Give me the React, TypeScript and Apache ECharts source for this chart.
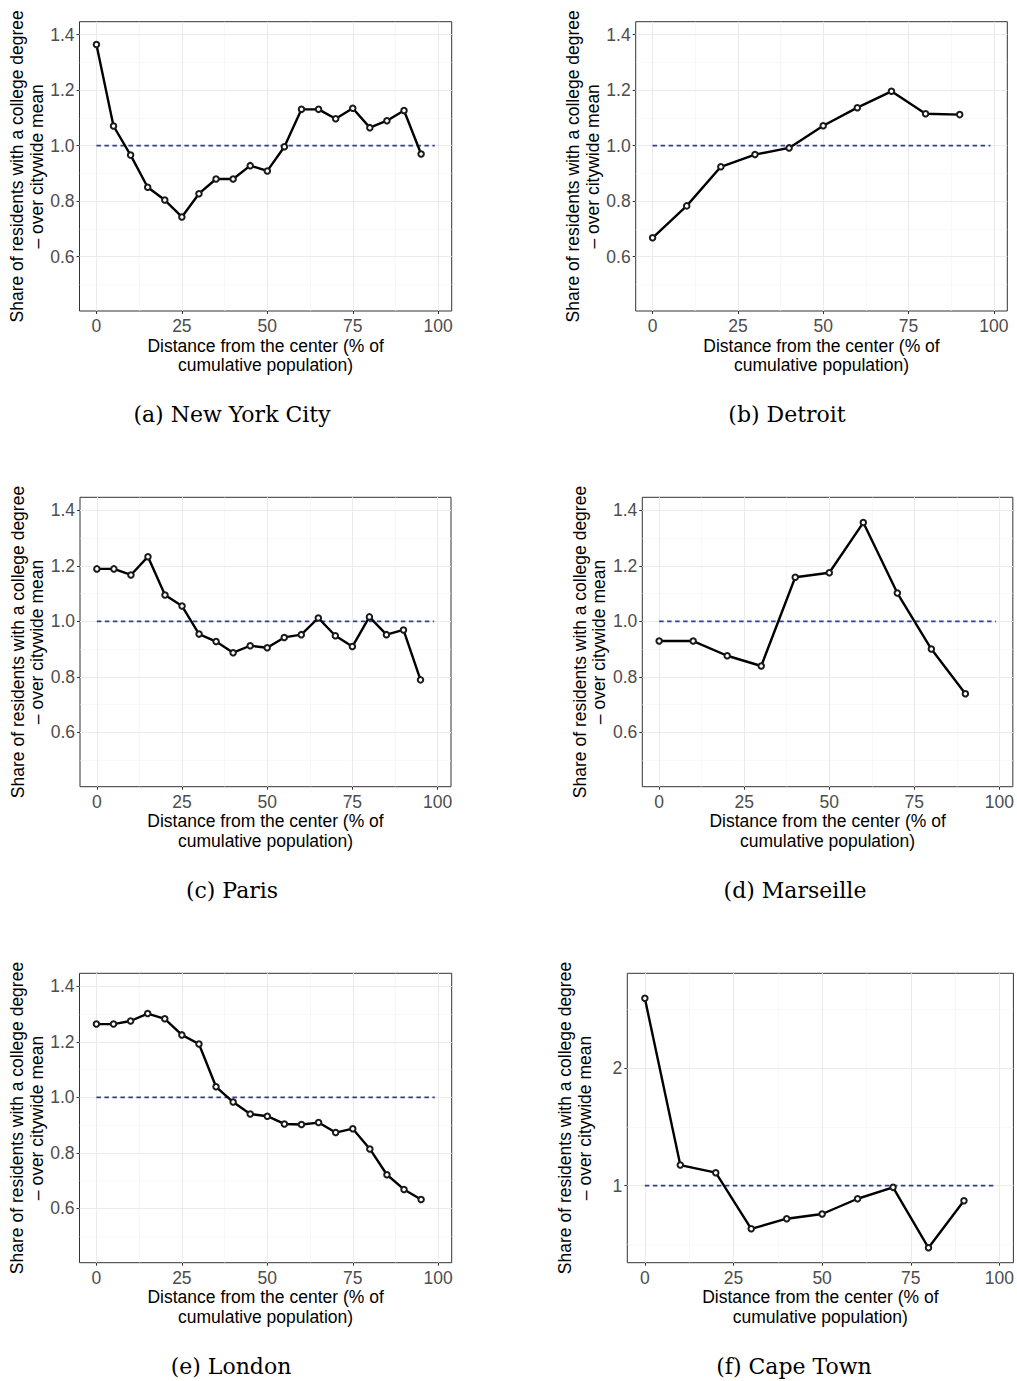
import React, { useEffect, useRef } from "react";
import * as echarts from "echarts";

// ---- data ----
const xFive = [0, 5, 10, 15, 20, 25, 30, 35, 40, 45, 50, 55, 60, 65, 70, 75, 80, 85, 90, 95];
const xTen = [0, 10, 20, 30, 40, 50, 60, 70, 80, 90];

const nycValues = [1.365, 1.071, 0.966, 0.85, 0.804, 0.743, 0.827, 0.88, 0.88, 0.928, 0.909, 0.996, 1.131, 1.131, 1.097, 1.135, 1.065, 1.09, 1.127, 0.97];
const detroitValues = [0.668, 0.783, 0.924, 0.968, 0.992, 1.072, 1.137, 1.196, 1.115, 1.112];
const parisValues = [1.189, 1.189, 1.167, 1.233, 1.095, 1.055, 0.954, 0.927, 0.887, 0.912, 0.905, 0.942, 0.952, 1.012, 0.948, 0.909, 1.016, 0.952, 0.969, 0.789];
const marseilleValues = [0.929, 0.929, 0.876, 0.839, 1.159, 1.175, 1.356, 1.102, 0.9, 0.739];
const londonValues = [1.264, 1.264, 1.275, 1.302, 1.283, 1.225, 1.192, 1.038, 0.983, 0.94, 0.932, 0.904, 0.902, 0.909, 0.873, 0.887, 0.814, 0.721, 0.668, 0.632];
const capeTownValues = [2.597, 1.176, 1.111, 0.633, 0.719, 0.759, 0.889, 0.986, 0.471, 0.872];

const captions = ["(a) New York City", "(b) Detroit", "(c) Paris", "(d) Marseille", "(e) London", "(f) Cape Town"];

const xTicks = [0, 25, 50, 75, 100];
const xMinor = [12.5, 37.5, 62.5, 87.5];
const yTicksShare = [0.6, 0.8, 1.0, 1.2, 1.4];
const yMinorShare = [0.5, 0.7, 0.9, 1.1, 1.3];
const yTicksCape = [1, 2];
const yMinorCape = [0.5, 1.5, 2.5];
const refLineX = [0, 99];
const refValue = 1;

const xTitle = "Distance from the center (% of\ncumulative population)";
const yTitle = "Share of residents with a college degree\n\u2013 over citywide mean";

// ---- layout ----
type Panel = {
  xs: number[];
  ys: number[];
  grid: { left: number; top: number; width: number; height: number };
  yMin: number;
  yMax: number;
  yTicks: number[];
  yMinor: number[];
  decimals: number;
  cap: { x: number; y: number };
};

const panels: Panel[] = [
  { xs: xFive, ys: nycValues, grid: { left: 79.5, top: 21.7, width: 372.2, height: 289.3 }, yMin: 0.404, yMax: 1.447, yTicks: yTicksShare, yMinor: yMinorShare, decimals: 1, cap: { x: 232, y: 414 } },
  { xs: xTen, ys: detroitValues, grid: { left: 635.7, top: 21.7, width: 371.6, height: 289.3 }, yMin: 0.404, yMax: 1.447, yTicks: yTicksShare, yMinor: yMinorShare, decimals: 1, cap: { x: 787, y: 414 } },
  { xs: xFive, ys: parisValues, grid: { left: 80, top: 497.3, width: 371, height: 289.4 }, yMin: 0.404, yMax: 1.447, yTicks: yTicksShare, yMinor: yMinorShare, decimals: 1, cap: { x: 232, y: 890 } },
  { xs: xTen, ys: marseilleValues, grid: { left: 642.3, top: 497.3, width: 372, height: 289.4 }, yMin: 0.404, yMax: 1.447, yTicks: yTicksShare, yMinor: yMinorShare, decimals: 1, cap: { x: 795, y: 890 } },
  { xs: xFive, ys: londonValues, grid: { left: 79.5, top: 973.3, width: 372.2, height: 289.4 }, yMin: 0.404, yMax: 1.447, yTicks: yTicksShare, yMinor: yMinorShare, decimals: 1, cap: { x: 231, y: 1366 } },
  { xs: xTen, ys: capeTownValues, grid: { left: 627.3, top: 973.3, width: 386.7, height: 289.4 }, yMin: 0.344, yMax: 2.81, yTicks: yTicksCape, yMinor: yMinorCape, decimals: 0, cap: { x: 794, y: 1366 } },
];

const SANS = "'Liberation Sans', Arial, sans-serif";
const SERIF = "'DejaVu Serif', serif";

function buildOption() {
  const grids: any[] = [];
  const xAxes: any[] = [];
  const yAxes: any[] = [];
  const series: any[] = [];
  const graphics: any[] = [];

  panels.forEach((p, i) => {
    grids.push({
      left: p.grid.left,
      top: p.grid.top,
      width: p.grid.width,
      height: p.grid.height,
      show: true,
      backgroundColor: "#ffffff",
      borderColor: "#333333",
      borderWidth: 1,
      containLabel: false,
    });
    xAxes.push({
      gridIndex: i,
      type: "value",
      min: -4.95,
      max: 103.95,
      axisLine: { show: false, onZero: false },
      splitLine: { show: false },
      axisTick: { show: true, length: 3, lineStyle: { color: "#333333", width: 1 }, customValues: xTicks },
      axisLabel: { show: true, customValues: xTicks, color: "#4d4d4d", fontSize: 17.5, fontFamily: SANS, margin: 6, formatter: (v: number) => String(v) },
      name: xTitle,
      nameLocation: "middle",
      nameGap: 22,
      nameTextStyle: { color: "#000000", fontSize: 17.5, fontFamily: SANS, lineHeight: 19.5, verticalAlign: "top", align: "center" },
    });
    yAxes.push({
      gridIndex: i,
      type: "value",
      min: p.yMin,
      max: p.yMax,
      axisLine: { show: false, onZero: false },
      splitLine: { show: false },
      axisTick: { show: true, length: 3, lineStyle: { color: "#333333", width: 1 }, customValues: p.yTicks },
      axisLabel: { show: true, customValues: p.yTicks, color: "#4d4d4d", fontSize: 17.5, fontFamily: SANS, margin: 5, formatter: (v: number) => v.toFixed(p.decimals) },
      name: yTitle,
      nameLocation: "middle",
      nameGap: 33,
      nameRotate: 90,
      nameTextStyle: { color: "#000000", fontSize: 17.5, fontFamily: SANS, lineHeight: 19.5, align: "center" },
    });

    const pts = p.xs.map((x, k) => [x, p.ys[k]]);
    const gridLines: any[] = [];
    xMinor.forEach((v) => gridLines.push({ xAxis: v, lineStyle: { color: "#f3f3f3", width: 0.6, type: "solid" } }));
    p.yMinor.forEach((v) => gridLines.push({ yAxis: v, lineStyle: { color: "#f3f3f3", width: 0.6, type: "solid" } }));
    xTicks.forEach((v) => gridLines.push({ xAxis: v, lineStyle: { color: "#ebebeb", width: 1.1, type: "solid" } }));
    p.yTicks.forEach((v) => gridLines.push({ yAxis: v, lineStyle: { color: "#ebebeb", width: 1.1, type: "solid" } }));

    series.push({
      type: "line",
      xAxisIndex: i,
      yAxisIndex: i,
      data: pts,
      showSymbol: false,
      symbol: "none",
      lineStyle: { opacity: 0, width: 0 },
      silent: true,
      z: 1,
      markLine: {
        silent: true,
        z: 1,
        symbol: ["none", "none"],
        label: { show: false },
        emphasis: { disabled: true },
        animation: false,
        data: gridLines,
      },
    });
    series.push({
      type: "line",
      xAxisIndex: i,
      yAxisIndex: i,
      data: refLineX.map((x) => [x, refValue]),
      symbol: "none",
      showSymbol: false,
      silent: true,
      lineStyle: { color: "#353d8c", width: 1.8, type: [4.5, 3.5] },
      z: 6,
    });
    series.push({
      type: "line",
      xAxisIndex: i,
      yAxisIndex: i,
      data: pts,
      symbol: "emptyCircle",
      symbolSize: 5.5,
      showSymbol: true,
      lineStyle: { color: "#000000", width: 2.4 },
      itemStyle: { color: "#1a1a1a", borderColor: "#1a1a1a", borderWidth: 1 },
      z: 7,
    });

    graphics.push({
      type: "text",
      x: p.cap.x,
      y: p.cap.y,
      style: {
        text: captions[i],
        font: `22px ${SERIF}`,
        fill: "#000000",
        textAlign: "center",
        textVerticalAlign: "middle",
      },
    });
  });

  return {
    animation: false,
    backgroundColor: "#ffffff",
    grid: grids,
    xAxis: xAxes,
    yAxis: yAxes,
    series,
    graphic: graphics,
  };
}

export default function App() {
  const ref = useRef<HTMLDivElement>(null);
  useEffect(() => {
    if (!ref.current) return;
    const chart = echarts.init(ref.current, null, { renderer: "svg" });
    chart.setOption(buildOption() as any);
    return () => chart.dispose();
  }, []);
  return (
    <div
      ref={ref}
      style={{ position: "fixed", left: 0, top: 0, width: 1017, height: 1381, background: "#ffffff" }}
    />
  );
}
